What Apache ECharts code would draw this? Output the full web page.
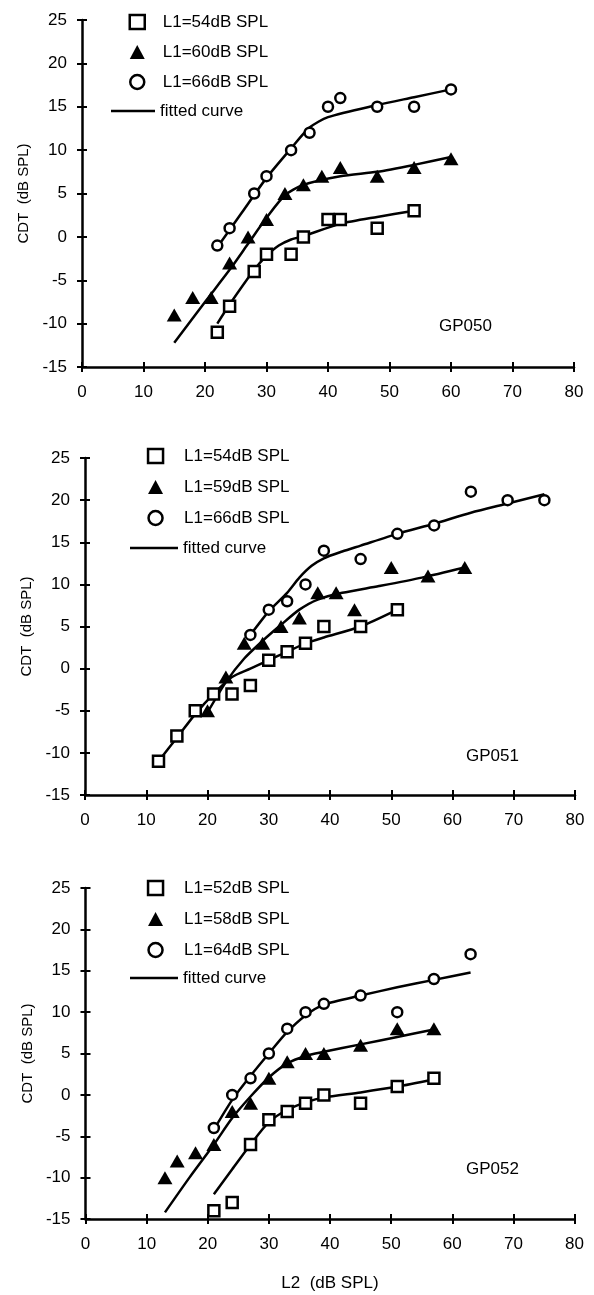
<!DOCTYPE html>
<html>
<head>
<meta charset="utf-8">
<script src="https://cdn.jsdelivr.net/npm/echarts@6/dist/echarts.min.js"></script>
<style>
  html, body { margin: 0; padding: 0; background: #fff; }
  #main { width: 594px; height: 1295px; }
</style>
</head>
<body>
<div id="main"></div>
<script>
// ---- GP050 ----
var p1Names = ['L1=54dB SPL', 'L1=60dB SPL', 'L1=66dB SPL'];
var p1SqX = [22, 24, 28, 30, 34, 36, 40, 42, 48, 54];
var p1SqY = [-11, -8, -4, -2, -2, 0, 2, 2, 1, 3];
var p1TriX = [15, 18, 21, 24, 27, 30, 33, 36, 39, 42, 48, 54, 60];
var p1TriY = [-9, -7, -7, -3, 0, 2, 5, 6, 7, 8, 7, 8, 9];
var p1CirX = [22, 24, 28, 30, 34, 37, 40, 42, 48, 54, 60];
var p1CirY = [-1, 1, 5, 7, 10, 12, 15, 16, 15, 15, 17];
var p1FitSqX = [22, 24, 28, 30, 32, 34, 36, 42, 48, 54];
var p1FitSqY = [-10, -7.8, -3.8, -2.2, -1, -0.3, 0.1, 1.5, 2.3, 3];
var p1FitTriX = [15, 20, 24, 27, 30, 33, 36, 42, 48, 54, 60];
var p1FitTriY = [-12.2, -7.5, -3.8, -0.8, 2.2, 4.8, 6, 7, 7.5, 8.3, 9.2];
var p1FitCirX = [22, 26, 30, 34, 37, 40, 48, 54, 60];
var p1FitCirY = [-1.2, 2.8, 6.8, 10.2, 12.6, 13.8, 15.2, 16.1, 17];

// ---- GP051 ----
var p2Names = ['L1=54dB SPL', 'L1=59dB SPL', 'L1=66dB SPL'];
var p2SqX = [12, 15, 18, 21, 24, 27, 30, 33, 36, 39, 45, 51];
var p2SqY = [-11, -8, -5, -3, -3, -2, 1, 2, 3, 5, 5, 7];
var p2TriX = [20, 23, 26, 29, 32, 35, 38, 41, 44, 50, 56, 62];
var p2TriY = [-5, -1, 3, 3, 5, 6, 9, 9, 7, 12, 11, 12];
var p2CirX = [27, 30, 33, 36, 39, 45, 51, 57, 63, 69, 75];
var p2CirY = [4, 7, 8, 10, 14, 13, 16, 17, 21, 20, 20];
var p2FitSqX = [12, 15, 18, 21, 24, 27, 30, 33, 36, 39, 45, 51];
var p2FitSqY = [-11, -8.2, -5.4, -3, -1, 0, 1, 2, 3, 3.7, 5, 7];
var p2FitTriX = [20, 23, 26, 29, 32, 35, 38, 42, 48, 55, 62];
var p2FitTriY = [-5.2, -1.6, 1.2, 3.3, 5.2, 7, 8.2, 9, 9.8, 10.8, 12];
var p2FitCirX = [27, 30, 33, 35, 37, 39, 42, 45, 51, 57, 63, 69, 75];
var p2FitCirY = [4, 6.8, 9, 10.8, 12.2, 13.1, 13.9, 14.6, 16, 17.2, 18.5, 19.6, 20.7];

// ---- GP052 ----
var p3Names = ['L1=52dB SPL', 'L1=58dB SPL', 'L1=64dB SPL'];
var p3SqX = [21, 24, 27, 30, 33, 36, 39, 45, 51, 57];
var p3SqY = [-14, -13, -6, -3, -2, -1, 0, -1, 1, 2];
var p3TriX = [13, 15, 18, 21, 24, 27, 30, 33, 36, 39, 45, 51, 57];
var p3TriY = [-10, -8, -7, -6, -2, -1, 2, 4, 5, 5, 6, 8, 8];
var p3CirX = [21, 24, 27, 30, 33, 36, 39, 45, 51, 57, 63];
var p3CirY = [-4, 0, 2, 5, 8, 10, 11, 12, 10, 14, 17];
var p3FitSqX = [21, 24, 27, 30, 33, 36, 39, 45, 51, 57];
var p3FitSqY = [-12, -9, -6, -3.3, -1.8, -0.9, -0.3, 0.3, 1, 1.9];
var p3FitTriX = [13, 17, 21, 24, 27, 30, 33, 36, 39, 45, 51, 57];
var p3FitTriY = [-14.2, -10, -6, -2.8, -0.2, 2.1, 3.8, 4.7, 5.2, 6.1, 7, 7.9];
var p3FitCirX = [21, 24, 27, 30, 33, 36, 39, 45, 51, 57, 63];
var p3FitCirY = [-4.2, -0.6, 2.3, 5, 7.6, 9.6, 10.9, 12, 13, 13.9, 14.8];

var panelTags = ['GP050', 'GP051', 'GP052'];

var FONT = 'Liberation Sans, Arial, sans-serif';

function pairs(xs, ys) {
    var out = [];
    for (var i = 0; i < xs.length; i++) out.push([xs[i], ys[i]]);
    return out;
}

var grids = [
    {left: 82, top: 20, width: 492, height: 347},
    {left: 85, top: 458, width: 490, height: 337},
    {left: 85.5, top: 888, width: 489, height: 331}
];

var panels = [
    {names: p1Names, sq: pairs(p1SqX, p1SqY), tri: pairs(p1TriX, p1TriY), cir: pairs(p1CirX, p1CirY),
     fits: [pairs(p1FitSqX, p1FitSqY), pairs(p1FitTriX, p1FitTriY), pairs(p1FitCirX, p1FitCirY)],
     legA: {left: 128.5, top: 13, pad: 13, gap: 12}, legB: {left: 111, top: 102, w: 44},
     tag: {left: 434, top: 313}, nameGap: 46},
    {names: p2Names, sq: pairs(p2SqX, p2SqY), tri: pairs(p2TriX, p2TriY), cir: pairs(p2CirX, p2CirY),
     fits: [pairs(p2FitSqX, p2FitSqY), pairs(p2FitTriX, p2FitTriY), pairs(p2FitCirX, p2FitCirY)],
     legA: {left: 146.8, top: 447, pad: 16, gap: 13}, legB: {left: 130, top: 539, w: 48},
     tag: {left: 461, top: 743}, nameGap: 49},
    {names: p3Names, sq: pairs(p3SqX, p3SqY), tri: pairs(p3TriX, p3TriY), cir: pairs(p3CirX, p3CirY),
     fits: [pairs(p3FitSqX, p3FitSqY), pairs(p3FitTriX, p3FitTriY), pairs(p3FitCirX, p3FitCirY)],
     legA: {left: 146.8, top: 879, pad: 16, gap: 13}, legB: {left: 130, top: 969, w: 48},
     tag: {left: 461, top: 1156}, nameGap: 49}
];

var xAxes = [], yAxes = [], series = [], legends = [], titles = [];

panels.forEach(function (p, i) {
    // main axes: outside ticks + labels
    xAxes.push({
        type: 'value', gridIndex: i, min: 0, max: 80, interval: 10,
        name: i === 2 ? 'L2  (dB SPL)' : '', nameLocation: 'middle', nameGap: 56,
        nameTextStyle: {color: '#000', fontSize: 17, fontFamily: FONT},
        axisLine: {show: true, onZero: false, lineStyle: {color: '#000', width: 2.5}},
        axisTick: {show: true, length: 5, lineStyle: {color: '#000', width: 2}},
        axisLabel: {color: '#000', fontSize: 17, fontFamily: FONT, margin: 17},
        splitLine: {show: false}
    });
    yAxes.push({
        type: 'value', gridIndex: i, min: -15, max: 25, interval: 5,
        name: 'CDT  (dB SPL)', nameLocation: 'middle', nameGap: p.nameGap, nameRotate: 90,
        nameTextStyle: {color: '#000', fontSize: 15, fontFamily: FONT},
        axisLine: {show: true, onZero: false, lineStyle: {color: '#000', width: 2.5}},
        axisTick: {show: true, length: 5, lineStyle: {color: '#000', width: 2}},
        axisLabel: {color: '#000', fontSize: 17, fontFamily: FONT, margin: 15},
        splitLine: {show: false}
    });
    // second copy of each axis, only for the inner half of the ticks
    xAxes.push({
        type: 'value', gridIndex: i, min: 0, max: 80, interval: 10, position: 'bottom',
        axisLine: {show: false, onZero: false}, axisLabel: {show: false}, splitLine: {show: false},
        axisTick: {show: true, inside: true, length: 5, lineStyle: {color: '#000', width: 2}}
    });
    yAxes.push({
        type: 'value', gridIndex: i, min: -15, max: 25, interval: 5, position: 'left',
        axisLine: {show: false, onZero: false}, axisLabel: {show: false}, splitLine: {show: false},
        axisTick: {show: true, inside: true, length: 5, lineStyle: {color: '#000', width: 2}}
    });
    var xi = i * 2, yi = i * 2;

    p.fits.forEach(function (f) {
        series.push({
            name: 'fitted curve', type: 'line', xAxisIndex: xi, yAxisIndex: yi,
            data: f, smooth: 0.25, symbol: 'none', silent: true,
            lineStyle: {color: '#000', width: 2.5}, itemStyle: {color: '#000'}, z: 2
        });
    });
    series.push({
        name: p.names[0], type: 'scatter', xAxisIndex: xi, yAxisIndex: yi, data: p.sq,
        symbol: 'rect', symbolSize: 11,
        itemStyle: {color: '#fff', borderColor: '#000', borderWidth: 2.5, opacity: 1}, z: 3
    });
    series.push({
        name: p.names[1], type: 'scatter', xAxisIndex: xi, yAxisIndex: yi, data: p.tri,
        symbol: 'triangle', symbolSize: [15, 13],
        itemStyle: {color: '#000', opacity: 1}, z: 3
    });
    series.push({
        name: p.names[2], type: 'scatter', xAxisIndex: xi, yAxisIndex: yi, data: p.cir,
        symbol: 'circle', symbolSize: 10,
        itemStyle: {color: '#fff', borderColor: '#000', borderWidth: 2.5, opacity: 1}, z: 3
    });

    legends.push({
        orient: 'vertical', left: p.legA.left, top: p.legA.top, padding: 0,
        itemWidth: 15, itemHeight: 14, itemGap: p.legA.gap, selectedMode: false,
        textStyle: {color: '#000', fontSize: 17, fontFamily: FONT, lineHeight: 18,
                    padding: [0, 0, 0, p.legA.pad]},
        data: [
            {name: p.names[0], icon: 'rect', itemStyle: {color: '#fff', borderColor: '#000', borderWidth: 2.5}},
            {name: p.names[1], icon: 'triangle', itemStyle: {color: '#000', borderWidth: 0}},
            {name: p.names[2], icon: 'circle', itemStyle: {color: '#fff', borderColor: '#000', borderWidth: 2.5}}
        ]
    });
    legends.push({
        orient: 'vertical', left: p.legB.left, top: p.legB.top, padding: 0,
        itemWidth: p.legB.w, itemHeight: 2.5, selectedMode: false,
        textStyle: {color: '#000', fontSize: 17, fontFamily: FONT, lineHeight: 18},
        data: [{name: 'fitted curve', icon: 'rect', itemStyle: {color: '#000', borderWidth: 0}}]
    });
    titles.push({
        text: panelTags[i], left: p.tag.left, top: p.tag.top,
        textStyle: {color: '#000', fontSize: 17, fontWeight: 'normal', fontFamily: FONT}
    });
});

var myChart = echarts.init(document.getElementById('main'));
myChart.setOption({
    animation: false,
    backgroundColor: '#fff',
    title: titles,
    grid: grids,
    xAxis: xAxes,
    yAxis: yAxes,
    legend: legends,
    series: series
});
</script>
</body>
</html>
